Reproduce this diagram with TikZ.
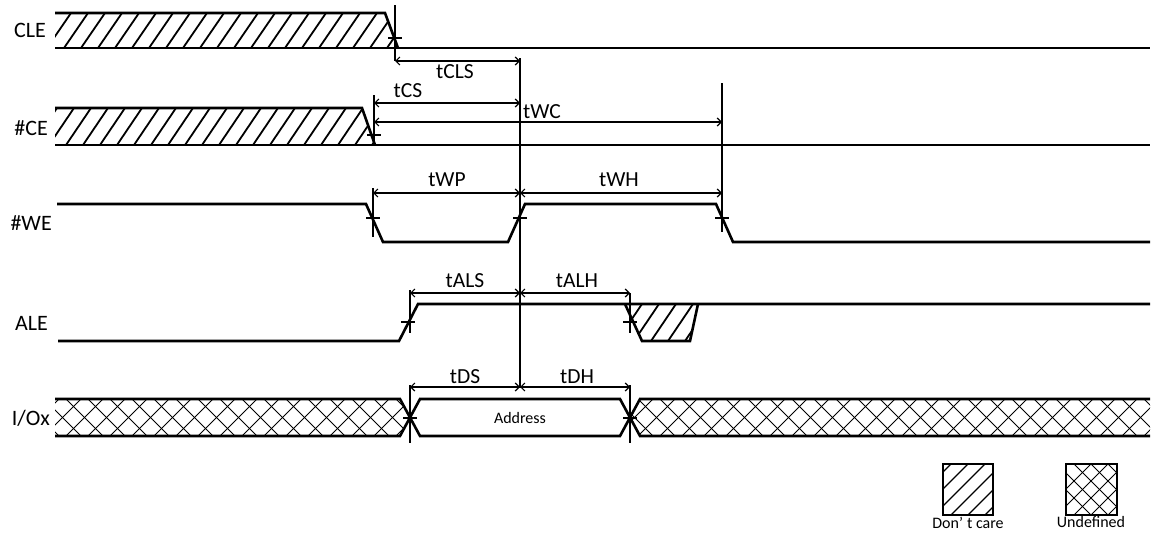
\documentclass[tikz,border=0pt]{standalone}
\usepackage{fontspec}
\setmainfont{Carlito}
\usetikzlibrary{arrows.meta}
\tikzset{
  sig/.style={line width=2.6pt, line join=miter},
  hatchline/.style={line width=1.8pt},
  xline/.style={line width=1pt},
  dimarrow/.style={line width=1.2pt, {Straight Barb[length=4pt,width=8pt]}-{Straight Barb[length=4pt,width=8pt]}},
  vmark/.style={line width=1.5pt},
  tickmark/.style={line width=1.2pt},
  sname/.style={anchor=east, inner sep=0pt, font=\fontsize{22}{24}\selectfont},
  tlabel/.style={inner sep=0pt, font=\fontsize{21.5}{24}\selectfont},
  small/.style={inner sep=0pt, font=\fontsize{16}{18}\selectfont},
}
\begin{document}
\begin{tikzpicture}[x=1pt,y=-1pt]
\useasboundingbox (0,0) rectangle (1159,533);

% ---------- signal names ----------
\node[sname] (nCLE) at (46,30) {CLE};
\node[sname] (nCE) at (48,128) {\#CE};
\node[sname] (nWE) at (52,223) {\#WE};
\node[sname] (nALE) at (48,323) {ALE};
\node[sname] (nIO) at (50,418) {I/Ox};

% ---------- CLE ----------
\begin{scope}
  \clip (55,13) -- (385,13) -- (398,48) -- (55,48) -- cycle;
  \foreach \x in {30,47,...,420} \draw[hatchline] (\x,48) -- ++(24,-35);
\end{scope}
\draw[sig] (55,13) -- (385,13) -- (398,48);
\draw[sig] (55,48) -- (1150,48);

% ---------- #CE ----------
\begin{scope}
  \clip (55,108) -- (362,108) -- (375,145) -- (55,145) -- cycle;
  \foreach \x in {32,49,...,400} \draw[hatchline] (\x,145) -- ++(25,-37);
\end{scope}
\draw[sig] (55,108) -- (362,108) -- (375,145);
\draw[sig] (55,145) -- (1150,145);

% ---------- #WE ----------
\draw[sig] (57,204) -- (366,204) -- (383,242) -- (508,242) -- (525,204)
  -- (716,204) -- (733,242) -- (1150,242);

% ---------- ALE ----------
\begin{scope}
  \clip (625,304) -- (698,304) -- (690,341) -- (642,341) -- cycle;
  \foreach \x in {600,617,...,710} \draw[hatchline] (\x,341) -- ++(25,-37);
\end{scope}
\draw[sig] (58,341) -- (399,341) -- (418,304) -- (1150,304);
\draw[sig] (625,304) -- (642,341) -- (690,341) -- (698,304);

% ---------- I/Ox ----------
\begin{scope}
  \clip (55,399) -- (400,399) -- (410,418) -- (400,436) -- (55,436) -- cycle;
  \foreach \x in {0,22,...,440} {
    \draw[xline] (\x,399) -- ++(37,37);
    \draw[xline] (\x,436) -- ++(37,-37);
  }
\end{scope}
\begin{scope}
  \clip (640,399) -- (1150,399) -- (1150,436) -- (640,436) -- (630,418) -- cycle;
  \foreach \x in {594,616,...,1160} {
    \draw[xline] (\x,399) -- ++(37,37);
    \draw[xline] (\x,436) -- ++(37,-37);
  }
\end{scope}
\draw[sig] (55,399) -- (400,399) -- (420,436) -- (620,436) -- (640,399) -- (1150,399);
\draw[sig] (55,436) -- (400,436) -- (420,399) -- (620,399) -- (640,436) -- (1150,436);
\node[small] (addr) at (520,418) {Address};

% ---------- vertical reference lines ----------
\draw[vmark] (395,5) -- (395,61);
\draw[vmark] (374,95) -- (374,145);
\draw[vmark] (520,58) -- (520,388);
\draw[vmark] (722,83) -- (722,232);
\draw[vmark] (373,188) -- (373,237);
\draw[vmark] (410,290) -- (410,333);
\draw[vmark] (630,293) -- (630,333);
\draw[vmark] (410,385) -- (410,443);
\draw[vmark] (630,385) -- (630,443);

% ---------- tick marks ----------
\foreach \px/\py in {395/38, 374/135, 373/218, 520/218, 722/218, 408/322, 630/322, 410/418, 630/418}
  \draw[tickmark] (\px-7,\py) -- (\px+7,\py);

% ---------- dimension arrows ----------
\draw[dimarrow] (395,61) -- (520,61);
\node[tlabel] (tCLS) at (455,72) {tCLS};
\draw[dimarrow] (374,103) -- (520,103);
\node[tlabel] (tCS) at (408,91) {tCS};
\draw[dimarrow] (374,122) -- (722,122);
\node[tlabel] (tWC) at (542,112) {tWC};
\draw[dimarrow] (373,193) -- (520,193);
\node[tlabel] (tWP) at (447,180) {tWP};
\draw[dimarrow] (520,193) -- (722,193);
\node[tlabel] (tWH) at (619,180) {tWH};
\draw[dimarrow] (410,293) -- (520,293);
\node[tlabel] (tALS) at (465,281) {tALS};
\draw[dimarrow] (520,293) -- (630,293);
\node[tlabel] (tALH) at (577,281) {tALH};
\draw[dimarrow] (410,387) -- (520,387);
\node[tlabel] (tDS) at (465,377) {tDS};
\draw[dimarrow] (520,387) -- (630,387);
\node[tlabel] (tDH) at (577,377) {tDH};

% ---------- legend ----------
\begin{scope}
  \clip (943,464) rectangle (993,515);
  \foreach \x in {900,917,...,1000} \draw[line width=1.3pt] (\x,515) -- ++(51,-51);
\end{scope}
\draw[line width=2.2pt] (943,464) rectangle (993,515);
\node[small] (ldc) at (968,523) {Don’\hspace{4pt}t care};

\begin{scope}
  \clip (1066,464) rectangle (1117,515);
  \foreach \x in {1040,1057,...,1130} {
    \draw[xline] (\x,464) -- ++(51,51);
    \draw[xline] (\x,515) -- ++(51,-51);
  }
\end{scope}
\draw[line width=2.2pt] (1066,464) rectangle (1117,515);
\node[small] (lun) at (1091,522) {Undefined};
\end{tikzpicture}
\end{document}
